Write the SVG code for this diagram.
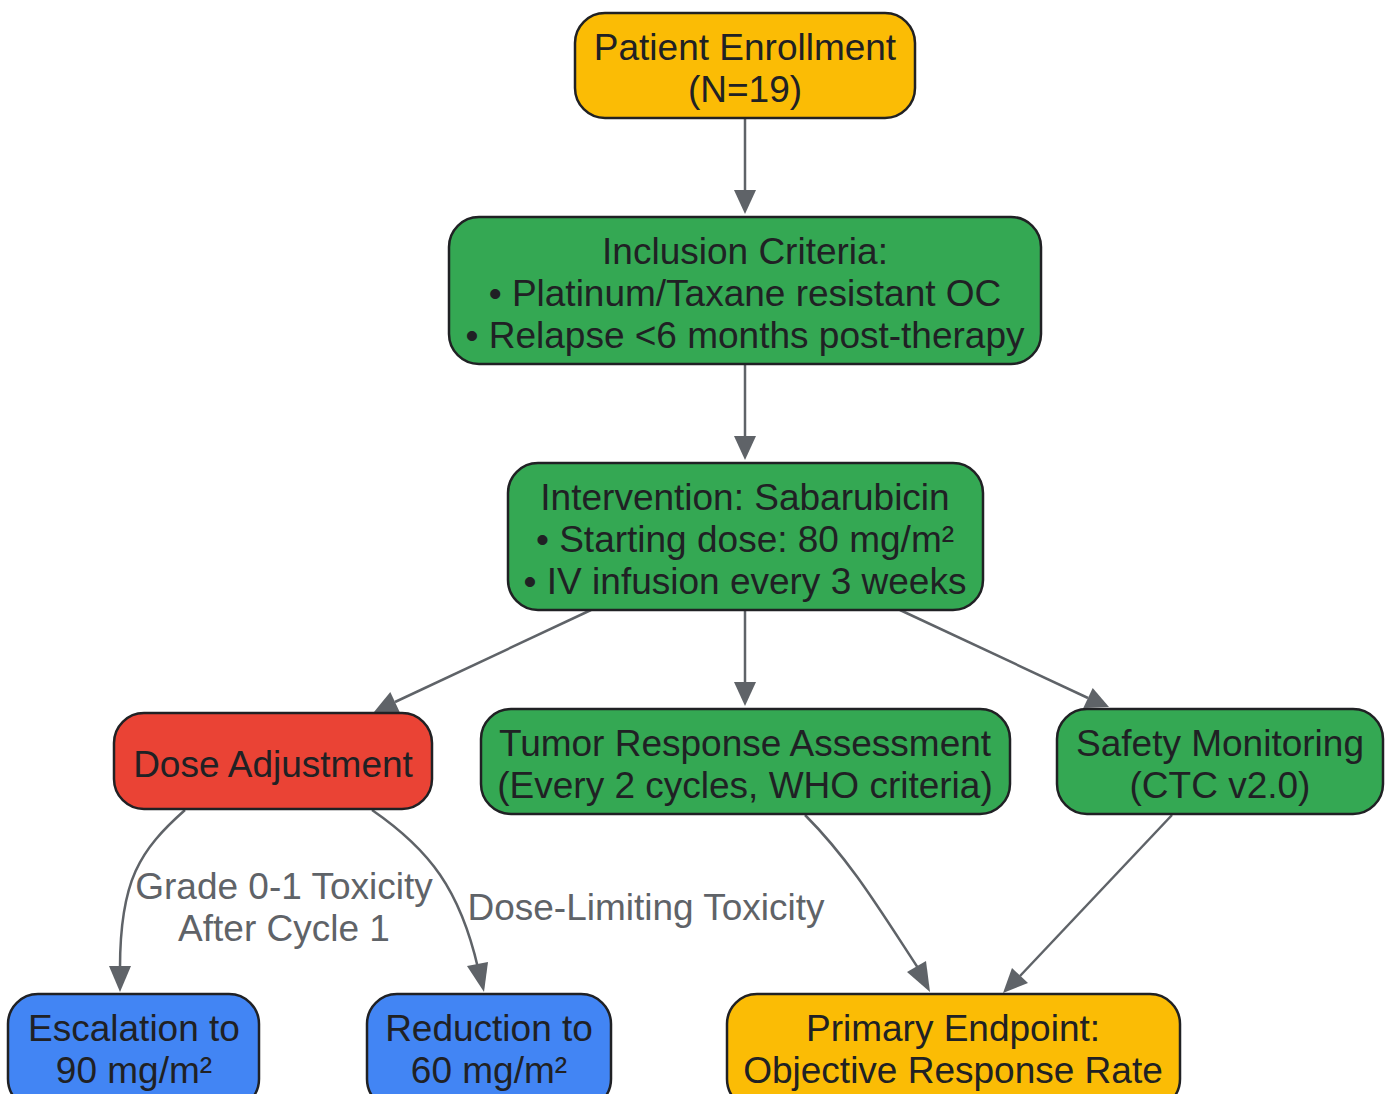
<svg xmlns="http://www.w3.org/2000/svg" width="1390" height="1094" viewBox="0 0 1390 1094">
<style>
.n{stroke:#202124;stroke-width:2.5}
.t{font-family:"Liberation Sans",Arial,sans-serif;font-size:37px;fill:#202124;text-anchor:middle}
.e{fill:none;stroke:#5f6368;stroke-width:2.5}
.h{fill:#5f6368}
.l{font-family:"Liberation Sans",Arial,sans-serif;font-size:37px;fill:#5f6368;text-anchor:middle}
.y{fill:#FBBC05}.g{fill:#34A853}.r{fill:#EA4335}.b{fill:#4285F4}
</style>
<g id="edges">
<path class="e" d="M745,118 L745,190"/><path class="h" d="M734,190 L756,190 L745,214 z"/>
<path class="e" d="M745,364 L745,436"/><path class="h" d="M734,436 L756,436 L745,460 z"/>
<path class="e" d="M745,610 L745,682"/><path class="h" d="M734,682 L756,682 L745,706 z"/>
<path class="e" d="M591,610 L395,702"/><path class="h" d="M390.3,692 L399.7,712 L374,712 z"/>
<path class="e" d="M900,610 L1088,698"/><path class="h" d="M1083.3,708 L1092.7,688 L1109,707 z"/>
<path class="e" d="M185,810 C140,850 120,880 120,968"/><path class="h" d="M109,966 L131,966 L120,992 z"/>
<path class="e" d="M372,810 C430,850 460,890 478,968"/><path class="h" d="M467,966 L488,962 L484,992 z"/>
<path class="e" d="M805,815 C850,860 880,910 918,968"/><path class="h" d="M907,972 L926,961 L930,992 z"/>
<path class="e" d="M1172,815 L1020,976"/><path class="h" d="M1012,968 L1028,983 L1003,993 z"/>
<text class="l" x="284" y="899">Grade 0-1 Toxicity</text>
<text class="l" x="284" y="941">After Cycle 1</text>
<text class="l" x="646" y="920">Dose-Limiting Toxicity</text>
</g>
<g id="enroll"><rect class="n y" x="575" y="13" width="340" height="105" rx="30"/><text class="t" x="745" y="60">Patient Enrollment</text><text class="t" x="745" y="102">(N=19)</text></g>
<g id="inclusion"><rect class="n g" x="449" y="217" width="592" height="147" rx="30"/><text class="t" x="745" y="264">Inclusion Criteria:</text><text class="t" x="745" y="306">• Platinum/Taxane resistant OC</text><text class="t" x="745" y="348">• Relapse &lt;6 months post-therapy</text></g>
<g id="intervention"><rect class="n g" x="508" y="463" width="475" height="147" rx="30"/><text class="t" x="745" y="510">Intervention: Sabarubicin</text><text class="t" x="745" y="552">• Starting dose: 80 mg/m²</text><text class="t" x="745" y="594">• IV infusion every 3 weeks</text></g>
<g id="dose"><rect class="n r" x="114" y="713" width="318" height="96" rx="30"/><text class="t" x="273" y="777">Dose Adjustment</text></g>
<g id="tumor"><rect class="n g" x="481" y="709" width="529" height="105" rx="30"/><text class="t" x="745" y="756">Tumor Response Assessment</text><text class="t" x="745" y="798">(Every 2 cycles, WHO criteria)</text></g>
<g id="safety"><rect class="n g" x="1057" y="709" width="326" height="105" rx="30"/><text class="t" x="1220" y="756">Safety Monitoring</text><text class="t" x="1220" y="798">(CTC v2.0)</text></g>
<g id="escalation"><rect class="n b" x="8" y="994" width="251" height="115" rx="30"/><text class="t" x="134" y="1041">Escalation to</text><text class="t" x="134" y="1083">90 mg/m²</text></g>
<g id="reduction"><rect class="n b" x="367" y="994" width="244" height="115" rx="30"/><text class="t" x="489" y="1041">Reduction to</text><text class="t" x="489" y="1083">60 mg/m²</text></g>
<g id="primary"><rect class="n y" x="727" y="994" width="453" height="115" rx="30"/><text class="t" x="953" y="1041">Primary Endpoint:</text><text class="t" x="953" y="1083">Objective Response Rate</text></g>
</svg>
